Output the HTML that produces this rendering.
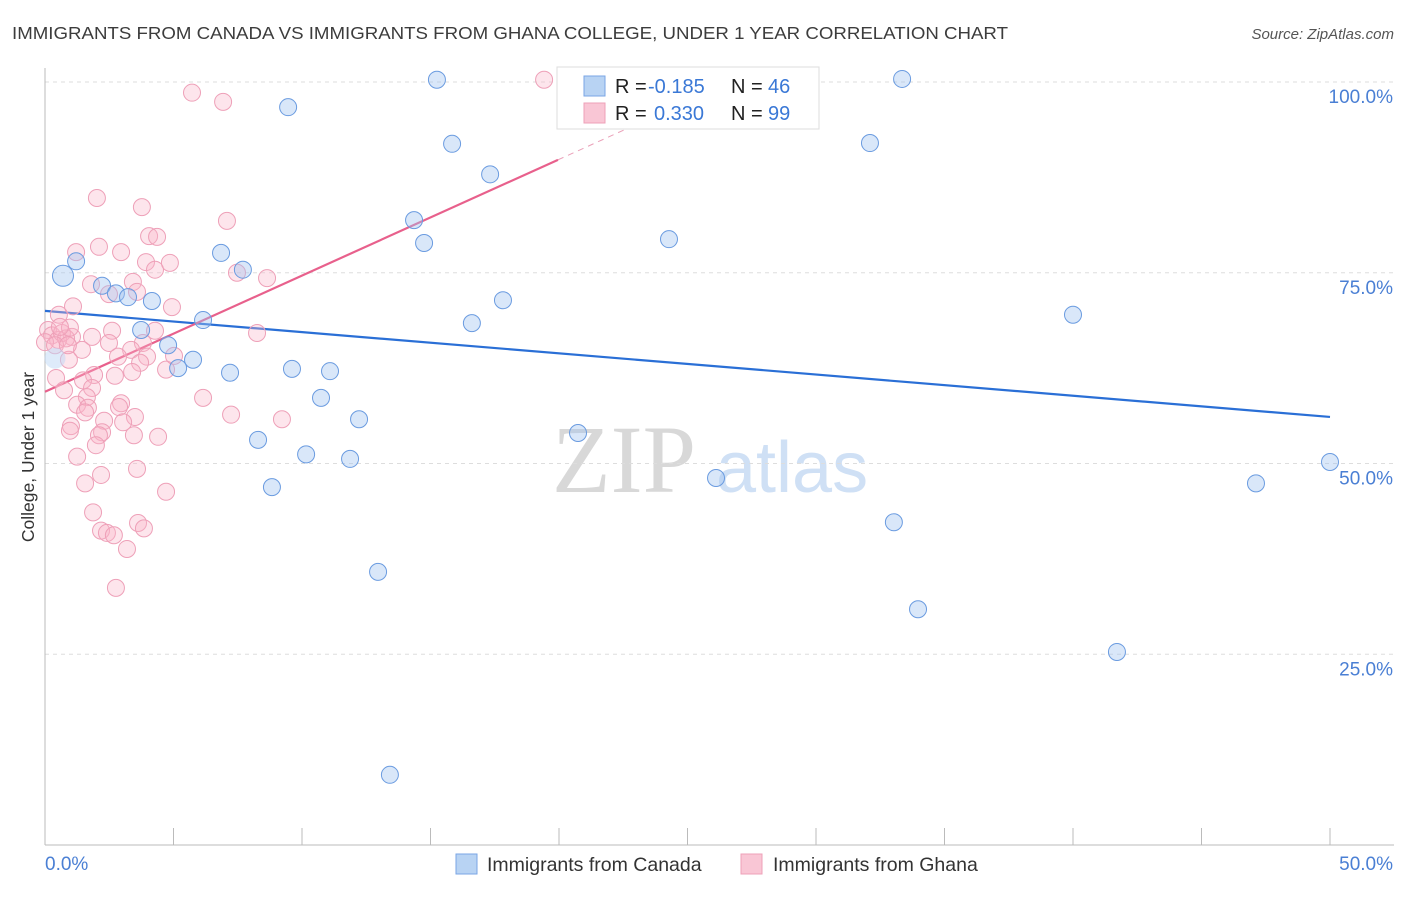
<!DOCTYPE html>
<html><head><meta charset="utf-8"><style>
body{margin:0;background:#fff;font-family:"Liberation Sans",sans-serif}
</style></head><body>
<svg id="chart" width="1406" height="892" xmlns="http://www.w3.org/2000/svg" font-family="Liberation Sans, sans-serif">
<text x="12" y="39" font-size="17.5" fill="#3c3c3c" textLength="996" lengthAdjust="spacingAndGlyphs">IMMIGRANTS FROM CANADA VS IMMIGRANTS FROM GHANA COLLEGE, UNDER 1 YEAR CORRELATION CHART</text>
<text x="1394" y="39" font-size="15" font-style="italic" fill="#555" text-anchor="end">Source: ZipAtlas.com</text>
<text transform="translate(34,457) rotate(-90)" font-size="17.5" fill="#333" text-anchor="middle">College, Under 1 year</text>
<g font-size="96">
<text x="552" y="492" fill="#d8d8d8" font-family="Liberation Serif, serif">ZIP</text>
<text x="716" y="492" fill="#cfe0f5" font-size="72">atlas</text>
</g>
<g id="grid"></g><g id="axes"></g><g id="lines"></g><g id="pts"></g>
<g>
<rect x="557" y="67" width="262" height="62" fill="#fff" stroke="#ddd"/>
<rect x="584" y="76" width="21" height="20" fill="#b8d3f3" stroke="#7aa6e4"/>
<rect x="584" y="103" width="21" height="20" fill="#f9c6d5" stroke="#eea0b8"/>
<text x="615" y="93" font-size="20" fill="#222">R = <tspan fill="#3a78d6" x="648">-0.185</tspan><tspan x="731">N = </tspan><tspan fill="#3a78d6" x="768">46</tspan></text>
<text x="615" y="120" font-size="20" fill="#222">R = <tspan fill="#3a78d6" x="654">0.330</tspan><tspan x="731">N = </tspan><tspan fill="#3a78d6" x="768">99</tspan></text>
</g>
<g>
<rect x="456" y="854" width="21" height="20" fill="#b8d3f3" stroke="#7aa6e4"/>
<text x="487" y="871" font-size="19.5" fill="#333">Immigrants from Canada</text>
<rect x="741" y="854" width="21" height="20" fill="#f9c6d5" stroke="#eea0b8"/>
<text x="773" y="871" font-size="19.5" fill="#333">Immigrants from Ghana</text>
</g>
</svg>
<script>
const canadaX=[15.25,9.46,15.84,17.32,14.36,14.75,24.28,6.85,7.70,1.21,0.70,2.22,2.76,3.23,4.16,17.82,16.61,6.15,3.74,4.79,5.76,5.18,7.20,9.61,11.09,10.74,12.22,20.74,8.29,10.16,11.87,8.83,26.11,12.96,13.42,33.35,32.10,40.0,50.0,47.12,33.03,33.97,41.71,0.39,28.68];
const canadaY=[100.3,96.7,91.9,87.9,81.9,78.9,79.4,77.6,75.4,76.5,74.6,73.3,72.3,71.8,71.3,71.4,68.4,68.8,67.5,65.5,63.6,62.5,61.9,62.4,62.1,58.6,55.8,54.0,53.1,51.2,50.6,46.9,48.1,35.8,9.2,100.4,92.0,69.5,50.2,47.4,42.3,30.9,25.3,63.8,99.5];
const ghanaX=[2.02,3.77,7.08,4.05,4.36,1.21,2.10,2.96,3.93,4.28,4.86,7.47,8.64,1.79,3.42,3.58,2.49,1.09,0.54,4.94,1.05,1.83,2.61,2.49,1.44,0.93,4.28,3.81,3.35,2.84,3.97,3.70,3.39,2.72,4.71,5.02,8.25,1.91,0.43,1.48,0.74,1.83,1.63,1.25,1.67,1.56,2.96,2.88,3.50,3.04,2.30,1.01,0.97,2.22,2.10,1.98,3.46,4.40,6.15,7.24,9.22,1.25,3.58,2.18,1.56,4.71,1.87,2.18,2.41,2.68,3.62,3.85,3.19,2.76,0.12,0.27,0.51,0.66,0.82,0.97,0.0,0.39,0.58,0.89,5.72,6.93,19.42];
const ghanaY=[84.8,83.6,81.8,79.8,79.7,77.7,78.4,77.7,76.4,75.4,76.3,75.0,74.3,73.5,73.8,72.5,72.2,70.6,69.5,70.5,66.6,66.6,67.4,65.8,64.9,63.6,67.4,65.8,64.9,64.0,64.0,63.2,62.0,61.5,62.3,64.1,67.1,61.6,61.2,60.9,59.6,59.9,58.7,57.7,57.3,56.7,57.9,57.4,56.1,55.4,55.6,54.9,54.3,54.1,53.7,52.4,53.7,53.5,58.6,56.4,55.8,50.9,49.3,48.5,47.4,46.3,43.6,41.2,40.9,40.6,42.2,41.5,38.8,33.7,67.5,66.8,66.2,67.1,66.4,67.8,65.9,65.5,67.9,65.5,98.6,97.4,100.3];
const canadaTrend=[70.0,56.1];   // y% at x=0 and x=50
const ghanaTrend=[59.4,1.523];   // intercept, slope per x%
const yTicks=[25,50,75,100];
const yTickLabels=["25.0%","50.0%","75.0%","100.0%"];
const xTickLabels=["0.0%","50.0%"];
const NS="http://www.w3.org/2000/svg";
const X=v=>45+v/50*1285, Y=v=>845-v/100*763;
function mk(p,t,a){const e=document.createElementNS(NS,t);for(const k in a)e.setAttribute(k,a[k]);p.appendChild(e);return e;}
const grid=document.getElementById('grid'),axes=document.getElementById('axes'),lines=document.getElementById('lines'),pts=document.getElementById('pts');
yTicks.forEach((t,i)=>{
 const g=mk(grid,'line',{x1:45,x2:1394,y1:Y(t),y2:Y(t),stroke:'#ddd','stroke-dasharray':'4,4'});
 
 
 const l=mk(axes,'text',{x:1393,y:Y(t)+21,'font-size':19,fill:'#4a7fd4','text-anchor':'end'});l.textContent=yTickLabels[i];
 
 
});
const ya=mk(axes,'line',{x1:45,x2:45,y1:68,y2:845,stroke:'#bbb'});


const xa=mk(axes,'line',{x1:45,x2:1394,y1:845,y2:845,stroke:'#bbb'});


for(let i=0;i<=10;i++){const tk=mk(axes,'line',{x1:X(i*5),x2:X(i*5),y1:828,y2:845,stroke:'#bbb'});
 
 }
const xl0=mk(axes,'text',{x:45,y:870,'font-size':19,fill:'#4a7fd4'});xl0.textContent=xTickLabels[0];


const xl1=mk(axes,'text',{x:1393,y:870,'font-size':19,fill:'#4a7fd4','text-anchor':'end'});xl1.textContent=xTickLabels[1];


ghanaX.forEach((x,i)=>{const c=mk(pts,'circle',{cx:X(x),cy:Y(ghanaY[i]),r:8.5,fill:'rgba(248,180,200,0.35)',stroke:'#eea0b8','stroke-width':1});
 
 });
canadaX.forEach((x,i)=>{const big=(i==10||i==43);const c=mk(pts,'circle',{cx:X(x),cy:Y(canadaY[i]),r:big?10.5:8.5,fill:big&&i==43?'rgba(190,215,245,0.5)':'rgba(160,196,240,0.4)',stroke:i==43?'none':'#6a9be0','stroke-width':1});
 
 });
const bl=mk(lines,'line',{x1:X(0),y1:Y(canadaTrend[0]),x2:X(50),y2:Y(canadaTrend[1]),stroke:'#2a6fd6','stroke-width':2.2});


const pl=mk(lines,'line',{x1:X(0),y1:Y(ghanaTrend[0]),x2:X(19.96),y2:Y(ghanaTrend[0]+ghanaTrend[1]*19.96),stroke:'#e8608c','stroke-width':2.2});


const pd=mk(lines,'line',{x1:X(19.96),y1:Y(ghanaTrend[0]+ghanaTrend[1]*19.96),x2:X(26.3),y2:Y(ghanaTrend[0]+ghanaTrend[1]*26.3),stroke:'#eaa0b8','stroke-width':1,'stroke-dasharray':'6,5'});


</script>
</body></html>
